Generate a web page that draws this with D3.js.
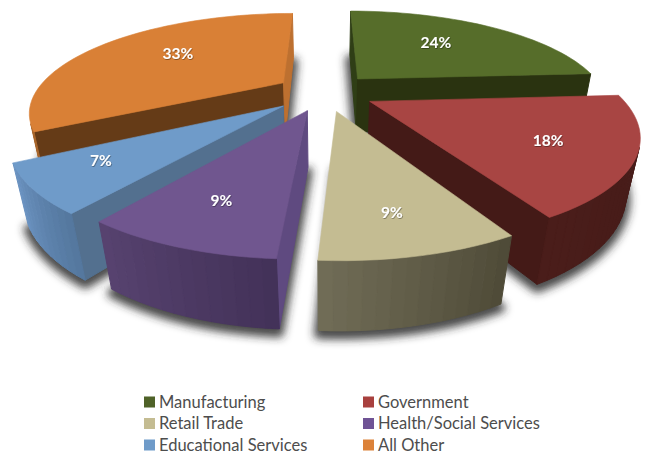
<!DOCTYPE html>
<html>
<head>
<meta charset="utf-8">
<script src="https://cdn.jsdelivr.net/npm/d3@7/dist/d3.min.js"></script>
<style>
html,body{margin:0;padding:0;background:#fff;}
svg{display:block;}
</style>
</head>
<body>
<svg id="chart" width="650" height="454"></svg>
<script>
// Sector shares, in percent
const categories = ["Manufacturing","Government","Retail Trade","Health/Social Services","Educational Services","All Other"];
const shares = [24,18,9,9,7,33];
const labels = ["24%","18%","9%","9%","7%","33%"];

// Per-sector styling
const topColors   = ["#566d2a","#a84543","#c4bc92","#70568f","#6f9bc9","#d98036"];
const legendColors= ["#4f6228","#a8403e","#c4bc92","#6f5395","#6f9bc9","#dc8239"];
const rimNear     = ["#2a3310","#441a17","#4f4b38","#433259","#55789f","#a8652b"];
const rimFar      = ["#2a3310","#4a1d1a","#706c56","#57426f","#6a92c0","#8a5220"];
const wallStart   = ["#2f3e16","#441a17","#706c56","#5f4a80","#53708f","#653b17"];
const wallEnd     = ["#2a3310","#441a17","#706c56","#5f4a80","#53708f","#bd7030"];
const explode     = [0.2,0.2,0.2,0.2,0.215,0.2];
const labelRadius = [0.61,0.707,0.763,0.73,0.751,0.613];
const labelTurn   = [-0.065,0.03,0.016,0,0.05,0.089];
const drawOrder   = [0,5,1,4,3,2];

// Perspective camera for the tilted disc
const camera = {x0:325, horizon:-240, focal:880, ground:1179, dist:3.55, drop:1674, thick:0.15};

function project(X, Z, h){
  const w = camera.dist + Z + h;
  return [camera.x0 + camera.focal * X / w,
          camera.horizon + (camera.ground + camera.drop * h) / w];
}

const svg = d3.select("#chart");
const defs = svg.append("defs");
defs.append("filter").attr("id","soft")
  .attr("x","-20%").attr("y","-20%").attr("width","140%").attr("height","140%")
  .append("feGaussianBlur").attr("stdDeviation",4);
defs.append("filter").attr("id","textShade")
  .attr("x","-30%").attr("y","-30%").attr("width","160%").attr("height","160%")
  .append("feDropShadow").attr("dx",0.6).attr("dy",0.8)
  .attr("stdDeviation",0.6).attr("flood-color","#000").attr("flood-opacity",0.45);

const pie = d3.pie().sort(null).value(d => d);
const arcs = pie(shares);
const linePath = d3.line().curve(d3.curveLinearClosed);

const slices = arcs.map((a,i) => {
  const mid = (a.startAngle + a.endAngle) / 2;
  const ox = explode[i] * Math.sin(mid), oz = explode[i] * Math.cos(mid);
  const n = Math.max(6, Math.round((a.endAngle - a.startAngle) / 0.04));
  const thetas = d3.range(n + 1).map(k => a.startAngle + (a.endAngle - a.startAngle) * k / n);
  const at = (t, r, h) => project(ox + r * Math.sin(t), oz + r * Math.cos(t), h);
  return {i, mid, ox, oz, thetas, at, apexTop: project(ox, oz, 0), apexBot: project(ox, oz, camera.thick)};
});

// Soft shadows on the floor below each sector
const shadowLayer = svg.append("g").attr("filter","url(#soft)").attr("transform","translate(0,4)");
slices.forEach(s => {
  const pts = [s.apexBot, ...s.thetas.map(t => s.at(t, 1, camera.thick))];
  shadowLayer.append("path").attr("d", linePath(pts))
    .attr("fill","#2c2c2c").attr("stroke","#2c2c2c").attr("stroke-width",9).attr("stroke-linejoin","round").attr("opacity",0.85);
});

// Extruded sectors, back to front; only faces turned to the viewer are filled
const face = (g, pts, color) => {
  if (d3.polygonArea(pts) > 0) {
    g.append("path").attr("d", linePath(pts)).attr("fill", color)
      .attr("stroke", color).attr("stroke-width", 1).attr("stroke-linejoin","round");
  }
};

drawOrder.forEach(idx => {
  const s = slices[idx];
  const g = svg.append("g").attr("class","sector");
  const t = s.thetas, H = camera.thick, last = t[t.length-1];
  face(g, [s.apexTop, s.at(t[0],1,0), s.at(t[0],1,H), s.apexBot], wallStart[idx]);
  face(g, [s.at(last,1,0), s.apexTop, s.apexBot, s.at(last,1,H)], wallEnd[idx]);
  const shade = d3.interpolateRgb(rimNear[idx], rimFar[idx]);
  d3.pairs(t).forEach(([a,b],k) => {
    face(g, [s.at(a,1,0), s.at(b,1,0), s.at(b,1,H), s.at(a,1,H)], shade(k/(t.length-2)));
  });
  g.append("path").attr("d", linePath([s.apexTop, ...t.map(v => s.at(v,1,0))]))
    .attr("fill", topColors[idx]).attr("stroke", topColors[idx]).attr("stroke-width",0.6)
    .attr("stroke-linejoin","round");
});

// Percentage labels on the top faces
slices.forEach(s => {
  const p = s.at(s.mid + labelTurn[s.i], labelRadius[s.i], 0);
  svg.append("text").attr("x",p[0]).attr("y",p[1]).attr("dy","0.35em")
    .attr("text-anchor","middle").attr("fill","#fff")
    .attr("font-family","Lato, 'Open Sans', sans-serif").attr("font-weight",700).attr("font-size",15.5)
    .attr("filter","url(#textShade)").text(labels[s.i]);
});

// Two-column legend, three rows
const legendX = d3.scaleOrdinal().domain([0,1]).range([144,363]);
const legendY = d3.scalePoint().domain([0,1,2]).range([402,445]);
const legend = svg.append("g").attr("class","legend");
categories.forEach((c,i) => {
  const col = i % 2, row = Math.floor(i / 2);
  const x = legendX(col), y = legendY(row);
  legend.append("rect").attr("x",x).attr("y",y-5.5).attr("width",11).attr("height",11).attr("fill",legendColors[i]);
  legend.append("text").attr("x",x+15).attr("y",y).attr("dy","0.36em").attr("fill","#4d4d4d")
    .attr("font-family","Lato, 'Open Sans', sans-serif").attr("font-size",16.5).text(c);
});
</script>
</body>
</html>
